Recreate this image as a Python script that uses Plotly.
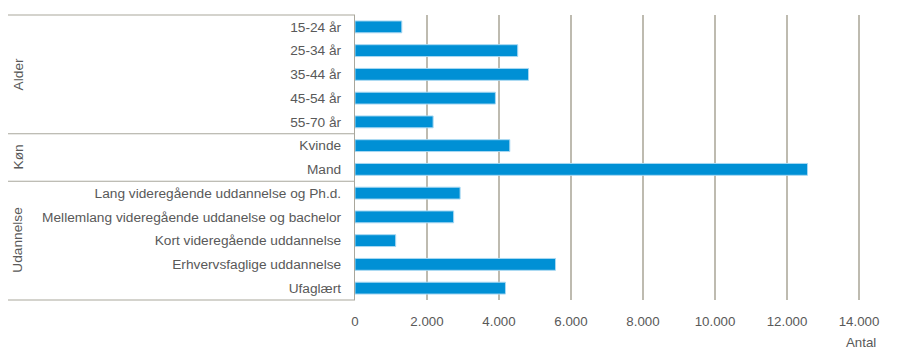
import plotly.graph_objects as go

categories = [
    "15-24 år", "25-34 år", "35-44 år", "45-54 år", "55-70 år",
    "Kvinde", "Mand",
    "Lang videregående uddannelse og Ph.d.",
    "Mellemlang videregående uddanelse og bachelor",
    "Kort videregående uddannelse",
    "Erhvervsfaglige uddannelse",
    "Ufaglært",
]
values = [1300, 4520, 4820, 3900, 2170, 4300, 12570, 2920, 2740, 1130, 5570, 4180]
groups = ["Alder", "Køn", "Udannelse"]
group_sizes = [5, 2, 5]
x_tickvals = [0, 2000, 4000, 6000, 8000, 10000, 12000, 14000]
x_ticktext = ["0", "2.000", "4.000", "6.000", "8.000", "10.000", "12.000", "14.000"]
x_title = "Antal"

# page has an 8px body margin; figure sized so it fits inside 900x360 window
OFF = 8
W, H = 900 - 2 * OFF, 360 - 2 * OFF
# page pixel layout targets (from reference)
PL, PR, PT, PB = 355, 892, 15, 300
ML, MR, MT, MB = PL - OFF, W - (PR - OFF), PT - OFF, H - (PB - OFF)
PW = W - ML - MR
PH = H - MT - MB
XMAX = (PR - PL) / 36.0 * 1000

def px_x(px):
    return (px - PL) / PW

def px_y(py):
    return (PB - py) / PH

FONT = "Liberation Sans, Arial, sans-serif"
TXT = "#595959"
BOX = "#a9a79c"
GRID = "#bebbb0"

fig = go.Figure(go.Bar(
    x=values, y=categories, orientation="h",
    marker=dict(color="#0090d5", line=dict(color="#a8d8f2", width=1)),
    width=0.5,
))

shapes = []
shapes.append(dict(type="line", xref="paper", yref="paper", x0=px_x(5), x1=0, y0=1, y1=1,
                   line=dict(color=BOX, width=1.2), layer="above"))
shapes.append(dict(type="line", xref="paper", yref="paper", x0=px_x(5), x1=0, y0=0, y1=0,
                   line=dict(color=BOX, width=1.2), layer="above"))
cum = 0
n = len(categories)
ann = []
for g, s in zip(groups, group_sizes):
    start = cum
    cum += s
    if cum < n:
        yb = 1 - cum / n
        shapes.append(dict(type="line", xref="paper", yref="paper", x0=px_x(5), x1=0, y0=yb, y1=yb,
                           line=dict(color=BOX, width=1.2), layer="above"))
    ymid = 1 - (start + s / 2) / n
    ann.append(dict(text=g, xref="paper", yref="paper", x=px_x(18), y=ymid, textangle=-90,
                    showarrow=False, font=dict(family=FONT, size=13.7, color=TXT),
                    xanchor="center", yanchor="middle"))

ann.append(dict(text=x_title, xref="paper", yref="paper", x=px_x(861), y=px_y(342),
                showarrow=False, font=dict(family=FONT, size=13.3, color=TXT),
                xanchor="center", yanchor="middle"))

fig.update_layout(
    width=W, height=H,
    margin=dict(l=ML, r=MR, t=MT, b=MB),
    plot_bgcolor="white", paper_bgcolor="white",
    showlegend=False,
    shapes=shapes, annotations=ann,
    font=dict(family=FONT, size=13, color=TXT),
    xaxis=dict(range=[0, XMAX], tickvals=x_tickvals, ticktext=x_ticktext,
               showgrid=True, gridcolor=GRID, gridwidth=1.5, zeroline=False,
               showline=False, ticks="outside", ticklen=9, tickcolor="rgba(0,0,0,0)",
               tickfont=dict(family=FONT, size=13.3, color=TXT), fixedrange=True),
    yaxis=dict(type="category", autorange="reversed", showgrid=False,
               showline=True, linecolor=BOX, linewidth=1.2,
               ticks="outside", ticklen=10, tickcolor="rgba(0,0,0,0)",
               tickfont=dict(family=FONT, size=13.7, color=TXT), fixedrange=True),
)

fig.write_html("out.html")
